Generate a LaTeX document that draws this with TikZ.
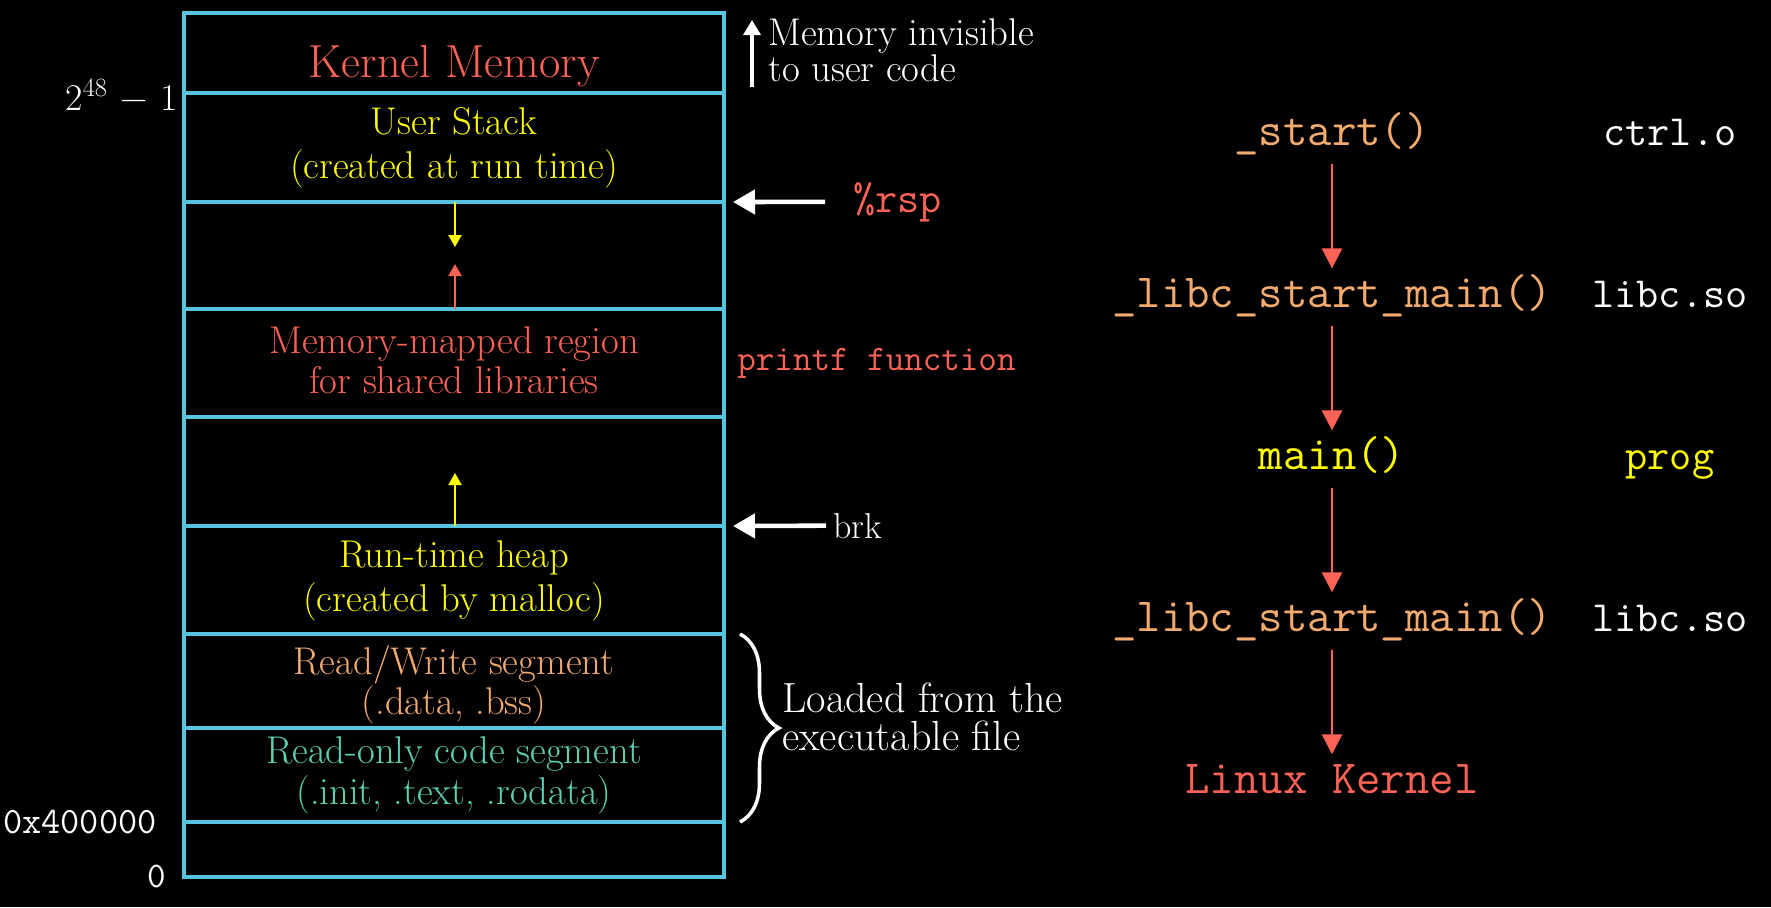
\documentclass[tikz,border=0pt]{standalone}
\usepackage{fontspec}
\usetikzlibrary{positioning,arrows.meta,decorations.pathreplacing}
\definecolor{segblue}{HTML}{58C4DD}
\definecolor{kred}{HTML}{FC6255}
\definecolor{syellow}{HTML}{FFFF00}
\definecolor{rwpeach}{HTML}{F2AA6E}
\definecolor{roteal}{HTML}{5CD0B3}

\begin{document}
\begin{tikzpicture}[x=0.02cm, y=-0.02cm, node distance=3.24cm]
	\tikzstyle{seg} = [align=center, inner sep=0, font=\fontsize{22}{25}\selectfont]
	\tikzstyle{note} = [white, align=left, inner sep=0, font=\fontsize{22}{18}\selectfont]
	\tikzstyle{call} = [font=\ttfamily\fontsize{27}{30}\selectfont, text height=0.63cm, text depth=0.22cm, inner sep=0.14cm]
	\tikzstyle{lib} = [call, white, font=\ttfamily\fontsize{24.5}{28}\selectfont]
	\tikzstyle{growarrow} = [line width=1.2pt, -{Triangle[width=0.26cm,length=0.24cm]}]
	\tikzstyle{pointer} = [white, line width=2.6pt, -{Triangle[width=0.48cm,length=0.44cm]}]
	\tikzstyle{flow} = [kred, line width=1.6pt, -{Triangle[width=0.4cm,length=0.4cm]}]

	% Background
	\fill[black] (0,0) rectangle (1771,907);
	\useasboundingbox (0,0) rectangle (1771,907);

	% Memory layout box
	\draw[segblue, line width=2.6pt] (184,13) rectangle (724,877);
	\foreach \y in {93,202,309,417,526,634,728,822}
		\draw[segblue, line width=2.6pt] (184,\y) -- (724,\y);

	% Segment labels
	\node[seg, kred, font=\fontsize{26.4}{28}\selectfont] (kernel) at (454,66) {Kernel Memory};
	\node[seg, syellow] (stack) at (454,148) {User Stack\\(created at run time)};
	\node[seg, kred, font=\fontsize{22}{23}\selectfont] (mmap) at (454,360) {Memory-mapped region\\for shared libraries};
	\node[seg, syellow] (heap) at (454,581) {Run-time heap\\(created by malloc)};
	\node[seg, rwpeach, font=\fontsize{22}{20.5}\selectfont] (rw) at (454,685) {Read/Write segment\\(.data, .bss)};
	\node[seg, roteal, font=\fontsize{22}{23.3}\selectfont] (ro) at (454,775) {Read-only code segment\\(.init, .text, .rodata)};

	% Growth directions
	\coordinate (stacktop) at (455,202);
	\coordinate (stackend) at (455,247);
	\coordinate (mmapbot) at (455,309);
	\coordinate (mmapend) at (455,264);
	\coordinate (heaptop) at (455,526);
	\coordinate (heapend) at (455,473);
	\draw[growarrow, syellow] (stacktop) -- (stackend);
	\draw[growarrow, kred] (mmapbot) -- (mmapend);
	\draw[growarrow, syellow] (heaptop) -- (heapend);

	% Addresses
	\node[white, anchor=base east, inner sep=0, font=\fontsize{21.5}{24}\selectfont] (highaddr) at (178,110) {2\textsuperscript{48}\,\,−\,\,1};
	\node[white, anchor=base east, inner sep=0, font=\ttfamily\fontsize{21.2}{24}\selectfont] (textaddr) at (157,833) {0x400000};
	\node[white, anchor=base east, inner sep=0, font=\ttfamily\fontsize{20.5}{24}\selectfont] (zeroaddr) at (166,887) {0};

	% Notes on the right of the box
	\coordinate (kbot) at (752,87);
	\coordinate (ktop) at (752,20);
	\draw[white, line width=2pt, -{Triangle[width=0.34cm,length=0.3cm]}] (kbot) -- (ktop);
	\node[note, anchor=west] (invisible) at (768,50) {Memory invisible\\to user code};

	\node[kred, anchor=base west, inner sep=0, font=\ttfamily\fontsize{24.5}{28}\selectfont] (rsp) at (853,212) {\%rsp};
	\coordinate (rspline) at (733,202);
	\draw[pointer, shorten <=0.56cm] (rsp.west) -- (rspline);

	\node[kred, anchor=base west, inner sep=0, font=\ttfamily\fontsize{20.5}{24}\selectfont] (printf) at (737,370) {printf function};

	\node[white, anchor=base west, inner sep=0, font=\fontsize{20.5}{24}\selectfont] (brk) at (833,538) {brk};
	\coordinate (brkline) at (733,526);
	\draw[pointer, shorten <=0.14cm] (brk.west) -- (brkline);

	\coordinate (bracetop) at (740,634);
	\coordinate (bracebot) at (740,822);
	\draw[white, line width=2pt, decorate, decoration={brace, amplitude=0.78cm}] (bracetop) -- (bracebot);
	\node[note, anchor=west, font=\fontsize{24}{22}\selectfont] (loaded) at (782,717) {Loaded from the\\executable file};

	% Call chain
	\node[call, rwpeach] (start) at (1332,135) {\_start()};
	\node[call, rwpeach] (libcA) [below of=start] {\_libc\_start\_main()};
	\node[call, syellow] (main) [below of=libcA] {main()};
	\node[call, rwpeach] (libcB) [below of=main] {\_libc\_start\_main()};
	\node[call, kred] (linux) [below of=libcB] {Linux Kernel};

	% Where each call lives
	\node[lib] (crt) [right of=start, node distance=6.76cm] {ctrl.o};
	\node[lib] (libsoA) [right of=libcA, node distance=6.76cm] {libc.so};
	\node[lib, syellow] (prog) [right of=main, node distance=6.76cm] {prog};
	\node[lib] (libsoB) [right of=libcB, node distance=6.76cm] {libc.so};

	\draw[flow] (start) -- (libcA);
	\draw[flow] (libcA) -- (main);
	\draw[flow] (main) -- (libcB);
	\draw[flow] (libcB) -- (linux);
\end{tikzpicture}
\end{document}
